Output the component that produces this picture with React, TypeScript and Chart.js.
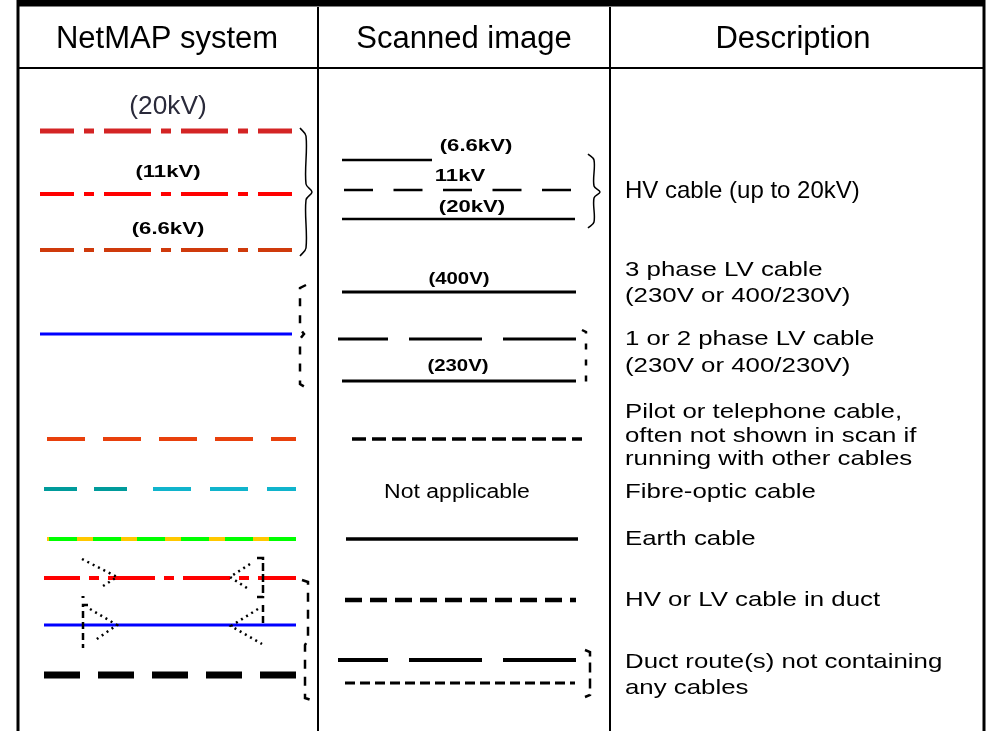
import React, { useEffect, useRef } from "react";
import { Chart, registerables } from "chart.js";

Chart.register(...registerables);

// ---------- content (text) ----------
const headers = ["NetMAP system", "Scanned image", "Description"];
const hvVoltages = ["(20kV)", "(11kV)", "(6.6kV)"];
const hvScanLabels = ["(6.6kV)", "11kV", "(20kV)"];
const lvScanLabels = ["(400V)", "(230V)"];
const notApplicable = "Not applicable";
const descHV = ["HV cable (up to 20kV)"];
const desc3Phase = ["3 phase LV cable", "(230V or 400/230V)"];
const desc1Phase = ["1 or 2 phase LV cable", "(230V or 400/230V)"];
const descPilot = ["Pilot or telephone cable,", "often not shown in scan if", "running with other cables"];
const descFibre = ["Fibre-optic cable"];
const descEarth = ["Earth cable"];
const descDuct = ["HV or LV cable in duct"];
const descDuctRoute = ["Duct route(s) not containing", "any cables"];

// ---------- layout ----------
const W = 989;
const H = 731;

type P = { x: number; y: number };
type Seg = {
  pts: P[];
  color: string;
  width: number;
  dash?: number[];
  offset?: number;
  tension?: number;
};

const segs: Seg[] = [];
const line = (x1: number, y1: number, x2: number, y2: number, color: string, width: number, dash?: number[], offset?: number) =>
  segs.push({ pts: [{ x: x1, y: y1 }, { x: x2, y: y2 }], color, width, dash, offset });
const poly = (pts: number[][], color: string, width: number, dash?: number[], tension?: number) =>
  segs.push({ pts: pts.map(([x, y]) => ({ x, y })), color, width, dash, tension });

// table frame
line(17, 3, 985, 3, "#000", 7);
line(18, 0, 18, H, "#000", 3);
line(984, 0, 984, H, "#000", 3);
line(17, 68, 985, 68, "#000", 2);
line(318, 7, 318, H, "#000", 2);
line(610, 7, 610, H, "#000", 2);

// column 1: HV lines (dash-dot)
const dashDot = [47, 10, 10, 10];
line(40, 131, 292, 131, "#d42424", 5, dashDot, 13);
line(40, 194, 292, 194, "#ff0000", 4, dashDot, 13);
line(40, 250, 292, 250, "#cf3a0c", 4, dashDot, 13);
// brace col 1
poly([[300, 128], [306, 136], [306, 184], [312, 192], [306, 200], [306, 248], [300, 256]], "#000", 1.5, undefined, 0.35);

// LV blue
line(40, 334, 292, 334, "#0000ff", 3);
poly([[306, 285], [300, 288], [300, 329], [304, 334], [300, 339], [300, 384], [305, 387]], "#000", 2.5, [8, 9]);

// pilot / telephone
line(47, 439, 296, 439, "#e8400c", 4, [38, 18]);
// fibre-optic
line(44, 489, 135, 489, "#009b9b", 4, [33, 17]);
line(153, 489, 296, 489, "#10b4cc", 4, [38, 19]);
// earth
line(47, 539, 296, 539, "#ffc800", 4);
line(49, 539, 296, 539, "#00ff00", 4, [28, 16]);

// duct HV (red dash-dot) and LV (blue)
line(44, 578, 296, 578, "#ff0000", 4, [47, 9, 10, 9], 11);
line(44, 625, 296, 625, "#0000ff", 3);
const dot = [2, 4];
poly([[82, 559], [117, 577], [100, 588]], "#000", 2.5, dot);
poly([[83, 596], [83, 598]], "#000", 3);
poly([[88, 605], [83, 605], [83, 648]], "#000", 2.5, [7, 4]);
poly([[90, 609], [117, 625], [94, 641]], "#000", 2.5, dot);
poly([[250, 564], [230, 577], [250, 590]], "#000", 2.5, dot);
poly([[257, 558], [263, 558], [263, 597], [257, 597]], "#000", 2.5, [8, 3]);
poly([[258, 609], [231, 626], [262, 644]], "#000", 2.5, dot);
poly([[263, 605], [263, 627]], "#000", 2.5, [7, 4]);
poly([[302, 580], [308, 582], [308, 640], [305, 645], [305, 698], [311, 700]], "#000", 2.5, [9, 8]);

// duct route (thick black dashed)
line(44, 675, 296, 675, "#000", 7, [36, 18]);

// column 2
line(342, 160, 432, 160, "#000", 2.5);
line(344, 190, 572, 190, "#000", 2.5, [29, 20.5]);
line(342, 219, 575, 219, "#000", 2.5);
poly([[588, 154], [594, 160], [594, 186], [600, 192], [594, 198], [594, 222], [588, 228]], "#000", 1.5, undefined, 0.35);

line(342, 292, 576, 292, "#000", 3);
line(338, 339, 576, 339, "#000", 3, [73, 21], 23);
line(342, 381, 576, 381, "#000", 3);
poly([[582, 330], [586, 332], [586, 385], [582, 387]], "#000", 2.5, [6, 10]);

line(352, 439, 582, 439, "#000", 3.5, [14, 6]);
line(346, 539, 578, 539, "#000", 3.5);
line(345, 600, 576, 600, "#000", 4.5, [17, 8]);
line(338, 660, 576, 660, "#000", 4, [73, 21], 23);
line(345, 683, 575, 683, "#000", 3, [10, 5]);
poly([[585, 650], [590, 652], [590, 695], [585, 697]], "#000", 2.5, [10, 6]);

// ---------- texts ----------
type T = { text: string; x: number; y: number; font: string; align: CanvasTextAlign; color: string; sx: number };
const texts: T[] = [];
const fam = "'Liberation Sans', Arial, sans-serif";
const headFont = `31px ${fam}`;
const cleanFont = `24px ${fam}`;
const pixFont = `bold 17px ${fam}`;
const descFont = `21px ${fam}`;
const headX = [167, 464, 793];
headers.forEach((h, i) => texts.push({ text: h, x: headX[i], y: 39, font: headFont, align: "center", color: "#000", sx: 1 }));
const hvY = [107, 172, 229];
hvVoltages.forEach((v, i) =>
  texts.push({
    text: v,
    x: 168,
    y: hvY[i],
    font: i === 0 ? `25px ${fam}` : pixFont,
    align: "center",
    color: i === 0 ? "#2a2a3a" : "#000",
    sx: i === 0 ? 1.05 : 1.3,
  })
);
const hvScanPos = [[476, 146], [460, 176], [472, 207]];
hvScanLabels.forEach((t, i) =>
  texts.push({ text: t, x: hvScanPos[i][0], y: hvScanPos[i][1], font: pixFont, align: "center", color: "#000", sx: 1.3 })
);
const lvScanPos = [[459, 279], [458, 366]];
lvScanLabels.forEach((t, i) =>
  texts.push({ text: t, x: lvScanPos[i][0], y: lvScanPos[i][1], font: pixFont, align: "center", color: "#000", sx: 1.2 })
);
texts.push({ text: notApplicable, x: 457, y: 492, font: `20px ${fam}`, align: "center", color: "#000", sx: 1.15 });

const descBlocks: [string[], number[], string, number][] = [
  [descHV, [191], cleanFont, 1],
  [desc3Phase, [270, 296], descFont, 1.23],
  [desc1Phase, [339, 366], descFont, 1.23],
  [descPilot, [412, 436, 459], descFont, 1.23],
  [descFibre, [492], descFont, 1.23],
  [descEarth, [539], descFont, 1.23],
  [descDuct, [600], descFont, 1.23],
  [descDuctRoute, [662, 688], descFont, 1.23],
];
descBlocks.forEach(([lines, ys, font, sx]) =>
  lines.forEach((t, i) => texts.push({ text: t, x: 625, y: ys[i], font, align: "left", color: "#000", sx }))
);

const bgPlugin = {
  id: "bg",
  beforeDraw(chart: any) {
    const { ctx } = chart;
    ctx.save();
    ctx.fillStyle = "#fff";
    ctx.fillRect(0, 0, chart.width, chart.height);
    ctx.restore();
  },
};

const textPlugin = {
  id: "tableText",
  afterDatasetsDraw(chart: any) {
    const { ctx } = chart;
    const xs = chart.scales.x;
    const ys = chart.scales.y;
    for (const t of texts) {
      ctx.save();
      ctx.textBaseline = "middle";
      ctx.font = t.font;
      ctx.textAlign = t.align;
      ctx.fillStyle = t.color;
      ctx.translate(xs.getPixelForValue(t.x), ys.getPixelForValue(t.y));
      ctx.scale(t.sx, 1);
      ctx.fillText(t.text, 0, 0);
      ctx.restore();
    }
  },
};

export default function App() {
  const ref = useRef<HTMLCanvasElement | null>(null);
  useEffect(() => {
    if (!ref.current) return;
    const n = segs.length;
    const chart = new Chart(ref.current, {
      type: "scatter",
      data: {
        datasets: segs.map((s, i) => ({
          data: s.pts,
          showLine: true,
          order: n - i,
          borderColor: s.color,
          borderWidth: s.width,
          borderDash: s.dash ?? [],
          borderDashOffset: s.offset ?? 0,
          borderCapStyle: "butt",
          tension: s.tension ?? 0,
          pointRadius: 0,
          fill: false,
          clip: false as any,
        })),
      },
      options: {
        animation: false,
        responsive: false,
        events: [],
        layout: { padding: 0 },
        plugins: { legend: { display: false }, tooltip: { enabled: false } },
        scales: {
          x: { type: "linear", min: 0, max: W, display: false },
          y: { type: "linear", min: 0, max: H, reverse: true, display: false },
        },
      },
      plugins: [bgPlugin, textPlugin],
    });
    return () => chart.destroy();
  }, []);
  return (
    <div style={{ position: "absolute", left: 0, top: 0, width: W, height: H }}>
      <canvas ref={ref} width={W} height={H} style={{ width: W, height: H, display: "block" }} />
    </div>
  );
}
